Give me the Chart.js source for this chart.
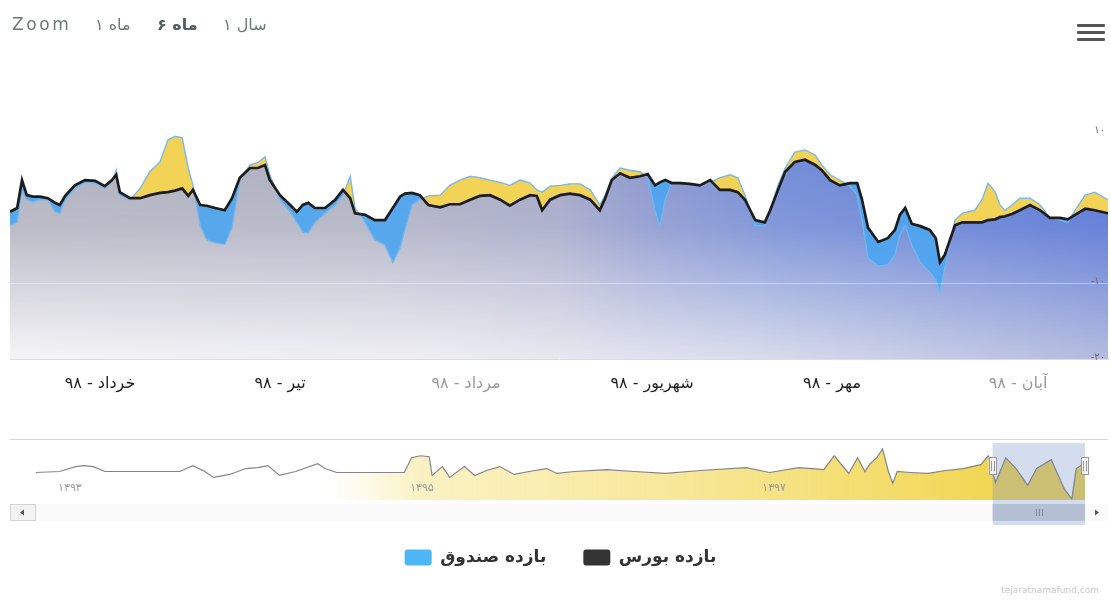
<!DOCTYPE html>
<html><head><meta charset="utf-8">
<script src="https://cdn.jsdelivr.net/npm/chart.js@4.4.1/dist/chart.umd.min.js"></script>
<style>
html,body{margin:0;padding:0;background:#fff;}
body{width:1111px;height:603px;position:relative;overflow:hidden;font-family:"DejaVu Sans",sans-serif;}
#main{position:absolute;left:0;top:0;}
#nav{position:absolute;left:0;top:430px;}
.btn{position:absolute;top:15px;font-size:16px;line-height:20px;color:#6b7a77;white-space:nowrap;}
.bar{position:absolute;left:1077px;width:28px;height:3px;background:#555;border-radius:1px;}
#credit{position:absolute;right:12px;top:585px;font-size:9px;color:#c8c8c8;white-space:nowrap;}
</style></head>
<body>
<canvas id="main" width="1111" height="603"></canvas>
<canvas id="nav" width="1111" height="100"></canvas>
<div class="btn" style="left:12px;letter-spacing:2.6px;font-size:17px;top:14px">Zoom</div>
<div class="btn" style="left:95px">۱ ماه</div>
<div class="btn" style="left:157px;font-weight:bold;color:#4f5f5b">۶ ماه</div>
<div class="btn" style="left:223px">۱ سال</div>
<div class="bar" style="top:24px"></div>
<div class="bar" style="top:31px"></div>
<div class="bar" style="top:38px"></div>
<div id="credit">tejaratnamafund.com</div>
<script>
// ---- data ----
const days = [0,1.2,2,2.8,3.8,5,6.3,7.5,8.3,9.2,10.8,12.5,14.2,15.8,17,17.7,18.3,20,21.7,23.3,25,26.3,27.5,28.7,29.7,30.5,31.7,32.8,34.2,35.8,37,38.3,40,41.3,42.5,43.3,45,46.7,47.8,48.8,49.7,50.8,52.5,54.2,55.5,56.7,57.5,59.2,60.8,62.5,63.8,65,65.8,67,68.3,69.7,71.7,73.3,75,76.7,78.3,80,81.7,83.3,85,86.7,87.8,88.7,90,91.7,93.3,95,96.7,98.3,99.2,100.3,101.7,103.3,105,106.3,107.5,108.3,109.2,110.3,111.7,113.3,115,116.7,118.3,120,121.3,122.5,124.2,125.8,126.7,128,129.2,130.8,132.5,134.2,135.3,136.7,138.3,140,141.2,142,143,144.7,146.3,147.5,148.3,149.2,150.3,151.7,153.3,154.3,155,155.8,157.5,158.7,159.7,160.8,162,163,164.2,165,165.8,167,168.3,170,171.7,173.3,175,176.3,177.5,179.2,180.8,183];
const bourse = [-0.5,0,3.7,1.7,1.5,1.5,1.3,0.7,0.4,1.6,3.0,3.7,3.6,2.9,3.7,4.4,2.1,1.3,1.3,1.7,2.0,2.1,2.3,2.6,1.6,2.4,0.4,0.3,0,-0.3,1.3,4.0,5.3,5.3,5.7,3.7,1.7,0.4,-0.5,0.4,0.7,0,0,1.1,2.4,1.3,-0.7,-0.9,-1.6,-1.6,0,1.5,1.9,2.0,1.7,0.4,0.1,0.5,0.5,1.1,1.6,1.7,1.1,0.3,1.1,1.7,1.6,-0.3,1.1,1.7,1.9,1.7,1.1,-0.3,1.3,3.7,4.6,4.0,4.2,4.5,3.0,3.4,3.7,3.3,3.3,3.2,3.0,3.7,2.4,2.4,2.1,1.1,-1.6,-1.9,-0.3,2.4,4.8,6.1,6.4,5.7,5.0,3.7,3.0,3.3,3.3,1.1,-2.6,-4.5,-4.0,-2.9,-0.9,0,-2.1,-2.4,-2.9,-4.0,-7.2,-6.2,-2.3,-1.9,-1.9,-1.9,-1.9,-1.6,-1.5,-1.2,-1.1,-0.8,-0.3,0.4,-0.3,-1.3,-1.3,-1.5,-0.9,-0.1,-0.3,-0.7];
const fund = [-2.3,-1.9,2.4,1.1,0.8,1.1,1.1,-0.5,-0.7,1.1,2.6,3.4,3.3,2.6,3.4,5.0,1.7,1.1,2.6,4.8,6.1,9.0,9.5,9.3,5.3,3.0,-2.3,-4.2,-4.6,-4.8,-2.6,3.7,5.7,6.0,6.8,4.4,1.1,-0.5,-1.9,-3.2,-3.3,-1.9,-0.7,0.4,1.7,4.2,0,-1.9,-4.2,-4.9,-7.2,-5.3,-2.9,0.4,1.1,1.6,1.7,3.0,3.7,4.2,4.0,3.7,3.4,3.0,3.7,3.3,2.4,2.1,2.9,3.0,3.2,3.2,2.4,0.4,1.7,4.0,5.3,5.0,4.8,4.0,-0.3,-2.4,1.1,3.4,3.4,3.2,3.0,3.4,4.0,4.4,4.0,1.7,-2.3,-2.4,-0.3,3.0,5.3,7.4,7.7,7.0,5.7,4.4,3.7,2.9,1.7,-1.6,-6.6,-7.7,-7.5,-6.2,-3.6,-2.3,-4.9,-7.2,-8.5,-9.5,-11.1,-7.9,-1.6,-0.7,-0.5,-0.3,1.1,3.3,2.1,0.4,-0.3,0.4,1.3,1.3,0.4,-1.3,-1.6,-1.9,-0.3,1.7,2.1,1.1];
const seriesNames = ['بازده بورس', 'بازده صندوق'];
const monthTicks = [15, 45, 76, 107, 137, 168];
const monthLabels = ['۹۸ - خرداد', '۹۸ - تیر', '۹۸ - مرداد', '۹۸ - شهریور', '۹۸ - مهر', '۹۸ - آبان'];
const yTickValues = [-20, -10, 0, 10, 20];
const yTickLabels = ['-۲۰', '-۱۰', '', '۱۰', ''];
const navMonths = [-1.3,0.3,1.4,2.0,2.6,3.4,5.8,8.5,9.4,10.2,10.8,11.9,13.0,13.8,14.5,15.3,16.4,17.9,18.4,19.2,20.8,22.5,23.8,24.3,24.9,25.5,25.7,26.4,26.9,27.9,28.6,29.4,30.3,31.3,32.3,33.5,34.2,35.4,37.6,39.5,41.6,44.0,47.1,48.7,50.7,52.4,53.1,54.1,54.7,55.2,55.5,56.0,56.4,56.8,57.1,57.4,58.3,59.5,60.7,61.9,63.1,63.6,64.1,64.8,65.5,66.3,66.9,67.9,68.8,69.3,69.6,70.2];
const navValues = [0,0.5,3,3.5,3,0.5,0.5,0.5,3.5,0.5,-2.5,-1,2,2.5,3.5,-1.5,0.5,4.5,2,0,0,0,0,7.5,8.5,8,-1.5,3,-2.5,3,-1.5,1,3,-1,0.5,2,-0.5,0.5,1.5,0.5,-0.5,1,2.5,0,2.5,1.5,8.5,-0.5,7.5,0.5,4,7.5,12,0.5,-5.5,0.5,0,-0.5,1,2,4,8.5,-5,7.5,2,-6.5,2,6.5,-8.5,-13.5,2,5];
const navYearTicks = [0, 24, 48];
const navYearLabels = ['۱۳۹۳', '۱۳۹۵', '۱۳۹۷'];
const navRange = [63.9, 70.2];

// ---- helpers ----
const FONT = '"DejaVu Sans", sans-serif';
const bourseXY = days.map((d, i) => ({x: d, y: bourse[i]}));
const fundXY = days.map((d, i) => ({x: d, y: fund[i]}));
const navXY = navMonths.map((m, i) => ({x: m, y: navValues[i]}));

const patCache = {};
function bourseFill(chart) {
  const a = chart.chartArea;
  if (!a || !chart.scales.y) return 'rgba(170,172,190,0.8)';
  const key = [a.left, a.top, a.right, a.bottom].join(',');
  if (patCache.key === key) return patCache.pat;
  const W = chart.width, H = chart.height;
  const base = document.createElement('canvas'); base.width = W; base.height = H;
  const b = base.getContext('2d');
  const gb = b.createLinearGradient(a.left, 0, a.right, 0);
  gb.addColorStop(0, 'rgb(250,250,252)');
  gb.addColorStop(0.4, 'rgb(242,242,246)');
  gb.addColorStop(0.68, 'rgb(224,226,238)');
  gb.addColorStop(1, 'rgb(186,192,224)');
  b.fillStyle = gb; b.fillRect(0, 0, W, H);
  const top = document.createElement('canvas'); top.width = W; top.height = H;
  const t = top.getContext('2d');
  const gt = t.createLinearGradient(a.left, 0, a.right, 0);
  gt.addColorStop(0, 'rgb(176,176,190)');
  gt.addColorStop(0.32, 'rgb(174,176,194)');
  gt.addColorStop(0.5, 'rgb(164,168,200)');
  gt.addColorStop(0.58, 'rgb(140,152,207)');
  gt.addColorStop(0.7, 'rgb(114,140,214)');
  gt.addColorStop(1, 'rgb(90,120,216)');
  t.fillStyle = gt; t.fillRect(0, 0, W, H);
  t.globalCompositeOperation = 'destination-in';
  const y0 = chart.scales.y.getPixelForValue(7), y1 = a.bottom;
  const gv = t.createLinearGradient(0, y0, 0, y1);
  gv.addColorStop(0, 'rgba(0,0,0,1)');
  gv.addColorStop(0.35, 'rgba(0,0,0,0.85)');
  gv.addColorStop(0.7, 'rgba(0,0,0,0.42)');
  gv.addColorStop(1, 'rgba(0,0,0,0.06)');
  t.fillStyle = gv; t.fillRect(0, 0, W, H);
  b.drawImage(top, 0, 0);
  patCache.key = key;
  patCache.pat = chart.ctx.createPattern(base, 'no-repeat');
  return patCache.pat;
}

// ---- main chart ----
new Chart(document.getElementById('main'), {
  type: 'line',
  data: {
    datasets: [
      { label: seriesNames[0], data: bourseXY, borderColor: '#1c1c1c', backgroundColor: '#333333',
        borderWidth: 2.7, pointRadius: 0, fill: false, tension: 0, order: 1 },
      { label: seriesNames[1], data: fundXY, borderColor: 'rgba(115,182,236,0.95)', backgroundColor: '#4db6f7',
        borderWidth: 1.4, pointRadius: 0, tension: 0, order: 2,
        fill: { target: 2, above: 'rgba(242,208,72,0.93)', below: 'rgba(78,165,240,0.92)' } },
      { label: 'fill', data: bourseXY, borderWidth: 0, borderColor: 'rgba(0,0,0,0)', pointRadius: 0, tension: 0,
        order: 3, fill: 'start', backgroundColor: (ctx) => bourseFill(ctx.chart) }
    ]
  },
  options: {
    responsive: false, animation: false, devicePixelRatio: 1,
    layout: { padding: { top: 57, left: 10, right: 0, bottom: 27 } },
    plugins: {
      filler: { drawTime: 'beforeDatasetsDraw' },
      tooltip: { enabled: false },
      legend: {
        position: 'bottom',
        labels: {
          padding: 37, boxWidth: 27, boxHeight: 16, useBorderRadius: true, borderRadius: 3,
          color: '#333', font: { family: FONT, size: 17, weight: 'bold' },
          generateLabels: () => [
            { text: seriesNames[1], fillStyle: '#4db6f7', strokeStyle: '#4db6f7', lineWidth: 0, datasetIndex: 1, hidden: false, borderRadius: 3, fontColor: '#333' },
            { text: seriesNames[0], fillStyle: '#333333', strokeStyle: '#333333', lineWidth: 0, datasetIndex: 0, hidden: false, borderRadius: 3, fontColor: '#333' }
          ]
        }
      }
    },
    scales: {
      x: {
        type: 'linear', min: 0, max: 183,
        afterFit: (s) => { s.height = 153; },
        afterBuildTicks: (s) => { s.ticks = monthTicks.map(v => ({ value: v })); },
        grid: { display: false, drawTicks: false },
        border: { display: true, color: '#dcdcdc', width: 1 },
        ticks: {
          padding: 15, maxRotation: 0, autoSkip: false,
          font: { family: FONT, size: 16 },
          color: (c) => (c.index === 2 || c.index === 5) ? '#9a9a9a' : '#1e1e1e',
          callback: (v, i) => monthLabels[i]
        }
      },
      y: {
        position: 'right', min: -20, max: 20,
        afterFit: (s) => { s.width = 3; },
        afterBuildTicks: (s) => { s.ticks = yTickValues.map(v => ({ value: v })); },
        grid: {
          z: 1, drawTicks: false,
          color: (c) => c.tick && c.tick.value === -10 ? 'rgba(255,255,255,0.4)' : 'rgba(0,0,0,0)'
        },
        border: { display: false },
        ticks: {
          z: 2, mirror: true, padding: -3, labelOffset: -2,
          font: { family: FONT, size: 10 }, color: '#6a6a6a',
          callback: (v) => yTickLabels[yTickValues.indexOf(v)]
        }
      }
    }
  }
});

// ---- navigator ----
const navDecor = {
  id: 'navDecor',
  afterDraw(chart) {
    const c = chart.ctx, xs = chart.scales.x;
    const s0 = xs.getPixelForValue(navRange[0]), s1 = xs.getPixelForValue(navRange[1]);
    const L = 10, R = 1108;
    c.save();
    // year labels
    c.font = '11px ' + FONT; c.fillStyle = '#9a9a9a'; c.textAlign = 'left'; c.textBaseline = 'middle';
    navYearTicks.forEach((v, i) => c.fillText(navYearLabels[i], xs.getPixelForValue(v) + 3, 58));
    // top outline
    c.strokeStyle = '#d6d6d6'; c.lineWidth = 1;
    c.beginPath(); c.moveTo(L, 9.5); c.lineTo(R, 9.5); c.stroke();
    // scrollbar track
    const sy = 74, sh = 17;
    c.fillStyle = '#fafafa'; c.fillRect(36, sy, 1049, sh);
    // buttons
    c.fillStyle = '#f3f3f3'; c.strokeStyle = '#d4d4d4';
    c.fillRect(L, sy, 26, sh); c.strokeRect(L + 0.5, sy + 0.5, 25, sh - 1);
    c.fillStyle = '#fbfbfb'; c.fillRect(1085, sy, 23, sh);
    c.fillStyle = '#555';
    c.beginPath(); c.moveTo(20, sy + 8.5); c.lineTo(24, sy + 5.5); c.lineTo(24, sy + 11.5); c.closePath(); c.fill();
    c.beginPath(); c.moveTo(1099, sy + 8.5); c.lineTo(1095, sy + 5.5); c.lineTo(1095, sy + 11.5); c.closePath(); c.fill();
    // thumb
    c.fillStyle = '#d3d6dc'; c.fillRect(s0, sy, s1 - s0, sh);
    c.strokeStyle = '#8a8a8a';
    const mid = (s0 + s1) / 2;
    [-3, 0, 3].forEach(d => { c.beginPath(); c.moveTo(Math.round(mid + d) + 0.5, sy + 5); c.lineTo(Math.round(mid + d) + 0.5, sy + 12); c.stroke(); });
    // mask
    c.fillStyle = 'rgba(102,133,194,0.28)';
    c.fillRect(s0, 13, s1 - s0, 82);
    // handles
    [s0, s1].forEach(x => {
      c.fillStyle = '#f4f4f4'; c.strokeStyle = '#999';
      c.fillRect(x - 4, 27, 8, 18); c.strokeRect(Math.round(x - 4) + 0.5, 27.5, 7, 17);
      c.beginPath(); c.moveTo(Math.round(x) - 1.5, 31); c.lineTo(Math.round(x) - 1.5, 41);
      c.moveTo(Math.round(x) + 1.5, 31); c.lineTo(Math.round(x) + 1.5, 41); c.stroke();
    });
    c.restore();
  }
};

new Chart(document.getElementById('nav'), {
  type: 'line',
  data: {
    datasets: [{
      data: navXY, borderColor: 'rgba(125,125,135,0.95)', borderWidth: 1.2, pointRadius: 0, tension: 0,
      fill: 'start',
      backgroundColor: (ctx) => {
        const ch = ctx.chart;
        const g = ch.ctx.createLinearGradient(0, 0, ch.width, 0);
        g.addColorStop(0, 'rgba(240,214,70,0)');
        g.addColorStop(330 / 1111, 'rgba(240,214,70,0)');
        g.addColorStop(420 / 1111, 'rgba(240,214,70,0.32)');
        g.addColorStop(700 / 1111, 'rgba(240,210,60,0.55)');
        g.addColorStop(990 / 1111, 'rgba(238,204,40,0.8)');
        g.addColorStop(1, 'rgba(238,204,40,0.8)');
        return g;
      }
    }]
  },
  options: {
    responsive: false, animation: false, devicePixelRatio: 1,
    layout: { padding: { top: 13, left: 36, right: 26, bottom: 0 } },
    plugins: { legend: { display: false }, tooltip: { enabled: false } },
    scales: {
      x: {
        type: 'linear', min: navMonths[0], max: navMonths[navMonths.length - 1],
        afterFit: (s) => { s.height = 30; },
        afterBuildTicks: (s) => { s.ticks = navYearTicks.map(v => ({ value: v })); },
        grid: { display: false, drawTicks: false }, border: { display: false },
        ticks: { display: false }
      },
      y: { display: false, min: -14, max: 15 }
    }
  },
  plugins: [navDecor]
});
</script>
</body></html>
